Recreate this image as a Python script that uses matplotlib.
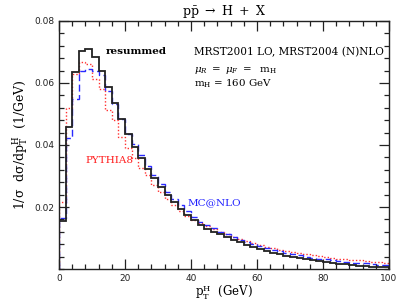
import numpy as np
import matplotlib
matplotlib.use("Agg")
import matplotlib.pyplot as plt
from matplotlib.ticker import MultipleLocator

# 2 GeV bins from 0 to 100 GeV
pt_edges = np.arange(0, 102, 2)

resummed = [0.0155, 0.0457, 0.0635, 0.0703, 0.0710, 0.0683, 0.0638, 0.0586, 0.0535, 0.0485,
            0.0435, 0.0395, 0.0357, 0.0322, 0.0294, 0.0265, 0.0240, 0.0215, 0.0195, 0.0175,
            0.0157, 0.0142, 0.0130, 0.0121, 0.0112, 0.0103, 0.0094, 0.0086, 0.0078, 0.0071,
            0.0065, 0.0059, 0.0053, 0.0048, 0.0043, 0.0039, 0.0035, 0.0031, 0.0028, 0.0025,
            0.0022, 0.0019, 0.0017, 0.0015, 0.0013, 0.0011, 0.0010, 0.0008, 0.0007, 0.0006]

mcatnlo = [0.0166, 0.0421, 0.0547, 0.0640, 0.0645, 0.0638, 0.0625, 0.0575, 0.0533, 0.0483,
           0.0437, 0.0402, 0.0368, 0.0333, 0.0302, 0.0274, 0.0249, 0.0226, 0.0205, 0.0186,
           0.0168, 0.0152, 0.0141, 0.0131, 0.0121, 0.0112, 0.0103, 0.0095, 0.0087, 0.0080,
           0.0074, 0.0068, 0.0062, 0.0057, 0.0052, 0.0048, 0.0044, 0.0040, 0.0037, 0.0034,
           0.0031, 0.0028, 0.0026, 0.0023, 0.0021, 0.0019, 0.0018, 0.0016, 0.0014, 0.0013]

pythia8 = [0.0217, 0.0518, 0.0630, 0.0667, 0.0660, 0.0612, 0.0580, 0.0513, 0.0480, 0.0427,
           0.0390, 0.0358, 0.0326, 0.0303, 0.0272, 0.0250, 0.0225, 0.0207, 0.0187, 0.0170,
           0.0158, 0.0148, 0.0139, 0.0129, 0.0121, 0.0112, 0.0104, 0.0097, 0.0090, 0.0084,
           0.0078, 0.0072, 0.0067, 0.0063, 0.0059, 0.0055, 0.0051, 0.0048, 0.0045, 0.0042,
           0.0040, 0.0037, 0.0034, 0.0032, 0.0030, 0.0028, 0.0026, 0.0024, 0.0022, 0.0020]

plt.rcParams['font.family'] = ['DejaVu Serif']
plt.rcParams['mathtext.fontset'] = 'dejavuserif'

fig = plt.figure(figsize=(3.99, 3.03), dpi=100)
ax = fig.add_axes([0.148, 0.112, 0.827, 0.819])

ax.stairs(pythia8, pt_edges, color='#ff3030', lw=1.0, ls=(0, (1, 1.5)))
ax.stairs(mcatnlo, pt_edges, color='#2a2aff', lw=1.0, ls=(0, (5, 2.5)))
ax.stairs(resummed, pt_edges, color='#222222', lw=1.3)

ax.set_xlim(0, 100)
ax.set_ylim(0, 0.08)
ax.xaxis.set_major_locator(MultipleLocator(20))
ax.xaxis.set_minor_locator(MultipleLocator(4))
ax.yaxis.set_minor_locator(MultipleLocator(0.004))
ax.set_yticks([0.02, 0.04, 0.06, 0.08])
ax.set_yticklabels(['0.02', '0.04', '0.06', '0.08'])
ax.tick_params(which='both', direction='in', top=True, right=True, labelsize=6.5,
               width=0.9, colors='#222222')
ax.tick_params(which='major', length=7)
ax.tick_params(which='minor', length=3.5)
for lab in ax.get_xticklabels() + ax.get_yticklabels():
    lab.set_family('DejaVu Sans')
for sp in ax.spines.values():
    sp.set_linewidth(1.0)
    sp.set_color('#222222')

ax.set_title(r'$\mathrm{p\bar{p}}\ \rightarrow\ \mathrm{H\ +\ X}$', fontsize=9, pad=4)
ax.set_xlabel(r'$\mathrm{p_T^H}$  (GeV)', fontsize=8.5, labelpad=0)
ax.set_ylabel(r'$\mathrm{1/\sigma\ \ d\sigma/dp_T^H}$  (1/GeV)', fontsize=9, labelpad=3)

ax.text(14, 0.0700, 'resummed', fontsize=7.5, fontweight='bold', va='center')
ax.text(41, 0.0700, 'MRST2001 LO, MRST2004 (N)NLO', fontsize=7.6, va='center')
ax.text(41, 0.0641, r'$\mu_R\ =\ \mu_F\ =\ \ \mathrm{m_H}$', fontsize=7.4, va='center')
ax.text(41, 0.0596, r'$\mathrm{m_H}$ = 160 GeV', fontsize=7.4, va='center')
ax.text(8, 0.0350, 'PYTHIA8', fontsize=7.5, color='#ff2020', va='center')
ax.text(39, 0.0215, 'MC@NLO', fontsize=7.5, color='#2020ff', va='center')

fig.savefig('out.png', dpi=100)
